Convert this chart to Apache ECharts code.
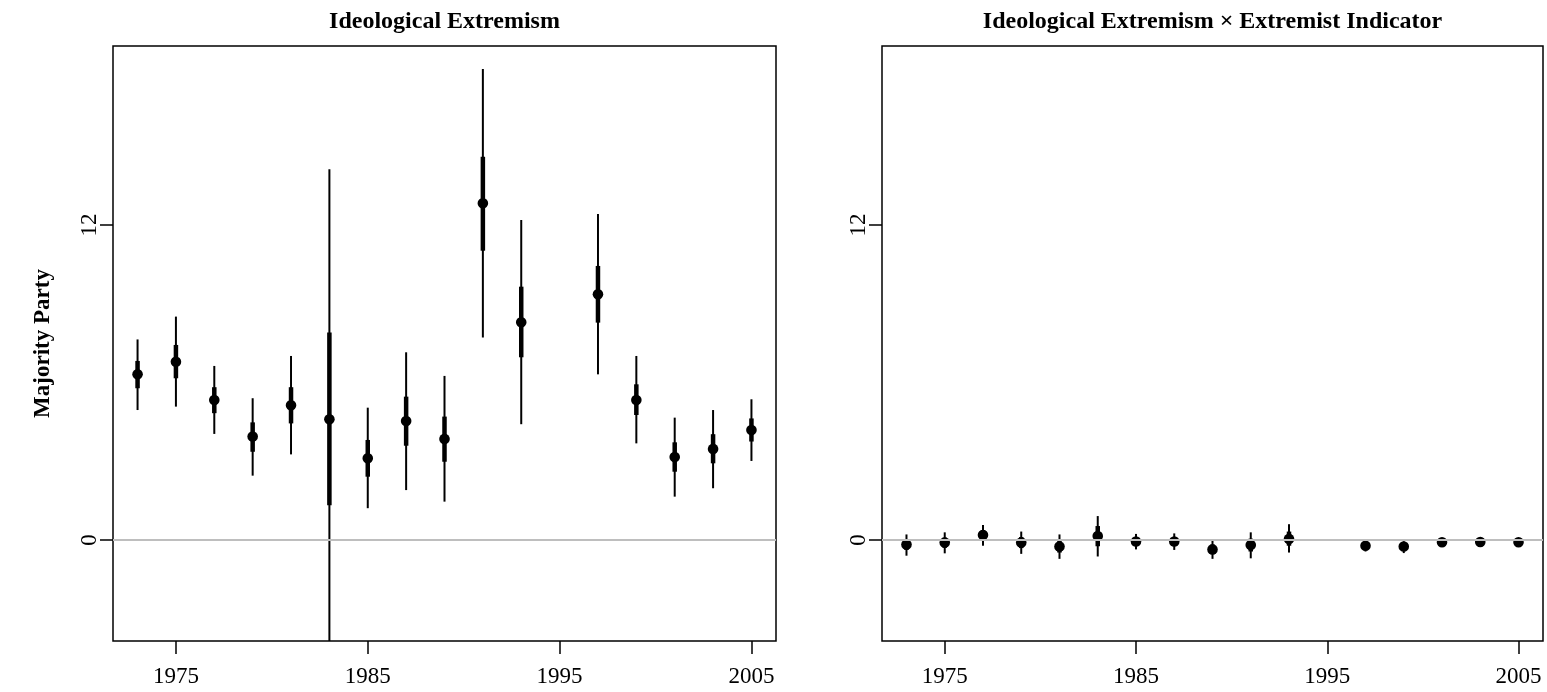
<!DOCTYPE html>
<html>
<head>
<meta charset="utf-8">
<script src="https://cdn.jsdelivr.net/npm/echarts@6/dist/echarts.min.js"></script>
<style>
  html, body { margin: 0; padding: 0; background: #fff; }
  #chart { width: 1547px; height: 692px; }
</style>
</head>
<body>
<div id="chart"></div>
<script>
// election years (no 1995 estimate)
const years = [1973, 1975, 1977, 1979, 1981, 1983, 1985, 1987, 1989, 1991, 1993, 1997, 1999, 2001, 2003, 2005]

// left panel: ideological extremism
const leftEst  = [6.31, 6.79, 5.33, 3.94, 5.13, 4.60, 3.11, 4.53, 3.85, 12.83, 8.29, 9.36, 5.33, 3.16, 3.47, 4.19]
const leftLo95 = [4.95, 5.08, 4.04, 2.45, 3.26, -4.90, 1.21, 1.90, 1.46, 7.71, 4.41, 6.31, 3.68, 1.65, 1.97, 3.01]
const leftHi95 = [7.64, 8.51, 6.63, 5.40, 7.01, 14.12, 5.04, 7.15, 6.25, 17.94, 12.19, 12.42, 7.01, 4.66, 4.95, 5.36]
const leftLo68 = [5.78, 6.16, 4.83, 3.36, 4.44, 1.32, 2.41, 3.59, 2.98, 11.02, 6.96, 8.28, 4.76, 2.60, 2.92, 3.75]
const leftHi68 = [6.82, 7.43, 5.82, 4.48, 5.82, 7.90, 3.81, 5.46, 4.70, 14.60, 9.65, 10.44, 5.93, 3.72, 4.03, 4.63]

// right panel: extremism x extremist indicator
const rightEst  = [-0.17, -0.10, 0.19, -0.10, -0.25, 0.15, -0.06, -0.06, -0.36, -0.19, 0.04, -0.22, -0.25, -0.09, -0.08, -0.09]
const rightLo95 = [-0.60, -0.51, -0.22, -0.53, -0.72, -0.63, -0.36, -0.38, -0.72, -0.70, -0.48, -0.44, -0.50, -0.23, -0.22, -0.22]
const rightHi95 = [0.21, 0.29, 0.57, 0.32, 0.21, 0.91, 0.23, 0.25, 0.00, 0.29, 0.60, -0.03, -0.05, 0.06, 0.05, 0.05]
const rightLo68 = [-0.38, -0.30, -0.02, -0.31, -0.48, -0.24, -0.21, -0.22, -0.54, -0.44, -0.22, -0.33, -0.37, -0.16, -0.15, -0.16]
const rightHi68 = [0.02, 0.09, 0.38, 0.11, -0.02, 0.53, 0.09, 0.10, -0.18, 0.05, 0.32, -0.12, -0.15, -0.02, -0.01, -0.02]

const xTicks = [1975, 1985, 1995, 2005]
const yTicks = [0, 12]
const titles = ['Ideological Extremism', 'Ideological Extremism \u00d7 Extremist Indicator']

const font = 'Liberation Serif, Times New Roman, serif'
const xMin = 1971.72, xMax = 2006.28
const yMin = -3.85, yMax = 18.82

const toRows = (est, lo95, hi95, lo68, hi68) =>
  years.map((y, i) => [y, est[i], lo95[i], hi95[i], lo68[i], hi68[i]])

const renderBar = (params, api) => {
  const x = api.value(0)
  const pt = api.coord([x, api.value(1)])
  const a = api.coord([x, api.value(2)])
  const b = api.coord([x, api.value(3)])
  const c = api.coord([x, api.value(4)])
  const d = api.coord([x, api.value(5)])
  return {
    type: 'group',
    children: [
      { type: 'line', shape: { x1: a[0], y1: a[1], x2: b[0], y2: b[1] }, style: { stroke: '#000', lineWidth: 2 } },
      { type: 'line', shape: { x1: c[0], y1: c[1], x2: d[0], y2: d[1] }, style: { stroke: '#000', lineWidth: 4.5 } },
      { type: 'circle', shape: { cx: pt[0], cy: pt[1], r: 5.3 }, style: { fill: '#000' } }
    ]
  }
}

const grids = [
  { left: 113, top: 46, width: 663, height: 595 },
  { left: 882, top: 46, width: 661, height: 595 }
]

const xAxisFor = (idx) => ({
  type: 'value',
  gridIndex: idx,
  min: xMin,
  max: xMax,
  axisLine: { show: false, onZero: false },
  splitLine: { show: false },
  axisTick: { customValues: xTicks, length: 13, lineStyle: { color: '#000', width: 1.5 } },
  axisLabel: { customValues: xTicks, formatter: v => String(v), color: '#000', fontSize: 23, fontFamily: font, margin: 24 }
})

const yAxisFor = (idx) => ({
  type: 'value',
  gridIndex: idx,
  min: yMin,
  max: yMax,
  name: idx === 0 ? 'Majority Party' : '',
  nameLocation: 'middle',
  nameRotate: 90,
  nameGap: 58,
  nameTextStyle: { color: '#000', fontSize: 23, fontWeight: 'bold', fontFamily: font },
  axisLine: { show: false, onZero: false },
  splitLine: { show: false },
  axisTick: { customValues: yTicks, length: 13, lineStyle: { color: '#000', width: 1.5 } },
  axisLabel: { customValues: yTicks, formatter: v => String(v), rotate: 90, color: '#000', fontSize: 23, fontFamily: font, margin: 12 }
})

const panelSeries = (idx, rows) => [
  {
    type: 'line',
    xAxisIndex: idx,
    yAxisIndex: idx,
    data: [],
    z: 1,
    markLine: {
      silent: true,
      symbol: 'none',
      label: { show: false },
      lineStyle: { color: '#bebebe', type: 'solid', width: 2 },
      data: [{ yAxis: 0 }]
    }
  },
  {
    type: 'custom',
    xAxisIndex: idx,
    yAxisIndex: idx,
    z: 2,
    clip: true,
    renderItem: renderBar,
    encode: { x: 0, y: [1, 2, 3] },
    data: rows
  }
]

const chart = echarts.init(document.getElementById('chart'))
chart.setOption({
  backgroundColor: '#fff',
  animation: false,
  title: titles.map((t, i) => ({
    text: t,
    left: grids[i].left + grids[i].width / 2 - 5,
    textAlign: 'center',
    top: 5,
    textStyle: { color: '#000', fontSize: 24, fontWeight: 'bold', fontFamily: font }
  })),
  grid: grids.map(g => ({ ...g, show: true, borderColor: '#000', borderWidth: 1.5, backgroundColor: 'transparent' })),
  xAxis: [xAxisFor(0), xAxisFor(1)],
  yAxis: [yAxisFor(0), yAxisFor(1)],
  series: [
    ...panelSeries(0, toRows(leftEst, leftLo95, leftHi95, leftLo68, leftHi68)),
    ...panelSeries(1, toRows(rightEst, rightLo95, rightHi95, rightLo68, rightHi68))
  ]
})
</script>
</body>
</html>
